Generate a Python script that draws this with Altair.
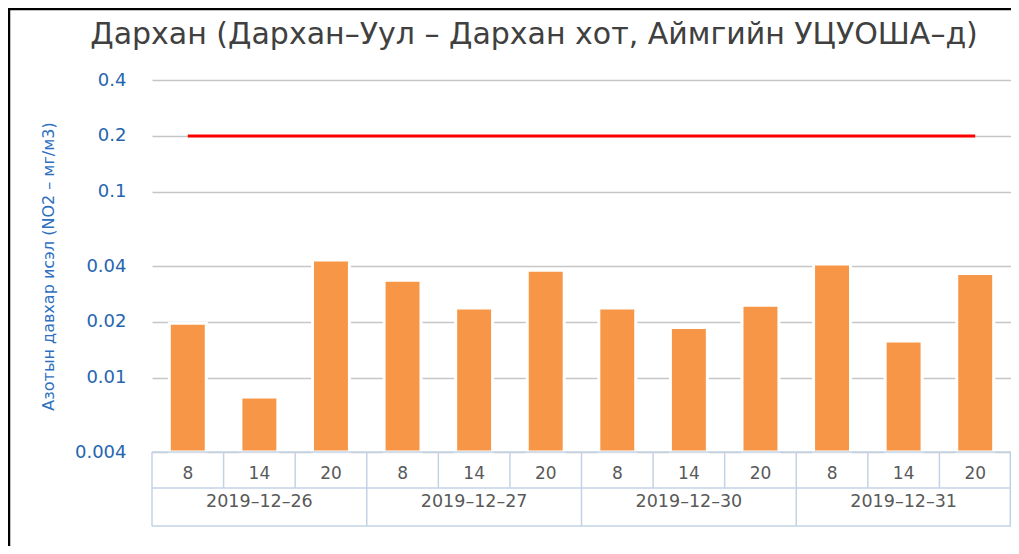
import altair as alt
import pandas as pd

# ---- data ----
dates = ["2019–12–26", "2019–12–27", "2019–12–30", "2019–12–31"]
hours = ["8", "14", "20"]
no2 = [0.0197, 0.0079, 0.0431,
       0.0335, 0.0238, 0.0380,
       0.0238, 0.0187, 0.0246,
       0.0410, 0.0158, 0.0364]
limit = 0.2
y_ticks = [0.004, 0.01, 0.02, 0.04, 0.1, 0.2, 0.4]
y_min, y_max = 0.004, 0.4
chart_title = "Дархан (Дархан–Уул – Дархан хот, Аймгийн УЦУОША–д)"
y_title = "Азотын давхар исэл (NO2 – мг/м3)"

rows = []
for i, d in enumerate(dates):
    for j, h in enumerate(hours):
        rows.append({"key": f"{d}|{h}", "date": d, "hour": h,
                     "no2": no2[i * len(hours) + j]})
df = pd.DataFrame(rows)
keys = list(df["key"])

W, H = 859, 372
step = W / len(keys)
BOX = "#C3D3E6"
FONT = "DejaVu Sans"

xscale = alt.Scale(domain=keys, paddingInner=0.484, paddingOuter=0.242)
X = alt.X("key:N", scale=xscale, axis=None)
yscale = alt.Scale(type="log", domain=[y_min, y_max], nice=False)
yaxis = alt.Axis(values=y_ticks, format="~g", labelColor="#2565AE", labelFontSize=18,
                 labelFont=FONT, labelPadding=26, ticks=False, domain=False,
                 grid=True, gridColor="#C6C6C6", gridWidth=1.5,
                 titleColor="#2E70C0", titleFontSize=16, titleFont=FONT,
                 titleFontWeight="normal", titlePadding=18)

base = alt.Chart(df)

bars = base.mark_bar(color="#F79646", stroke="white", strokeWidth=3).encode(
    x=X,
    y=alt.Y("no2:Q", scale=yscale, axis=yaxis, title=y_title),
    y2=alt.datum(y_min),
)

limit_line = base.mark_line(color="#FF0000", strokeWidth=3).encode(
    x=X, y=alt.datum(limit)
)

one = alt.Data(values=[{}])
hline_top = alt.Chart(one).mark_rule(color=BOX, strokeWidth=1.5).encode(
    x=alt.value(0), x2=alt.value(W), y=alt.value(H))
hline_mid = alt.Chart(one).mark_rule(color=BOX, strokeWidth=1.5).encode(
    x=alt.value(0), x2=alt.value(W), y=alt.value(H + 36))
hline_bot = alt.Chart(one).mark_rule(color=BOX, strokeWidth=1.5).encode(
    x=alt.value(0), x2=alt.value(W), y=alt.value(H + 74))

hour_sep = base.mark_rule(color=BOX, strokeWidth=1.5, xOffset=-step / 2).encode(
    x=X, y=alt.value(H), y2=alt.value(H + 36))
date_sep = base.transform_filter(alt.datum.hour == hours[0]).mark_rule(
    color=BOX, strokeWidth=1.5, xOffset=-step / 2).encode(
    x=X, y=alt.value(H + 36), y2=alt.value(H + 74))
end_sep = base.transform_filter(alt.datum.key == keys[-1]).mark_rule(
    color=BOX, strokeWidth=1.5, xOffset=step / 2 - 0.75).encode(
    x=X, y=alt.value(H), y2=alt.value(H + 74))

hour_lbl = base.mark_text(fontSize=17, color="#595959", font=FONT, baseline="middle").encode(
    x=X, y=alt.value(H + 22), text="hour:N")
date_lbl = base.transform_filter(alt.datum.hour == hours[1]).mark_text(
    fontSize=17.5, color="#595959", font=FONT, baseline="middle").encode(
    x=X, y=alt.value(H + 50), text="date:N")

title_txt = alt.Chart(one).mark_text(
    fontSize=30, font=FONT, color="#404040", baseline="middle", align="center"
).encode(x=alt.value(382), y=alt.value(-45), text=alt.value(chart_title))

frame = alt.Chart(one).mark_rect(fill="transparent", stroke="black", strokeWidth=2.5).encode(
    x=alt.value(-143), x2=alt.value(W + 30), y=alt.value(-71), y2=alt.value(H + 200))

chart = alt.layer(
    bars, limit_line, hline_top, hline_mid, hline_bot,
    hour_sep, date_sep, end_sep, hour_lbl, date_lbl, title_txt, frame
).properties(
    width=W, height=H,
    autosize=alt.AutoSizeParams(type="none"),
    padding={"left": 144, "top": 72, "right": 0, "bottom": 94},
).configure(background="white").configure_view(strokeWidth=0, stroke="transparent")

chart.save("out.html", embed_options={"renderer": "svg", "actions": False})
